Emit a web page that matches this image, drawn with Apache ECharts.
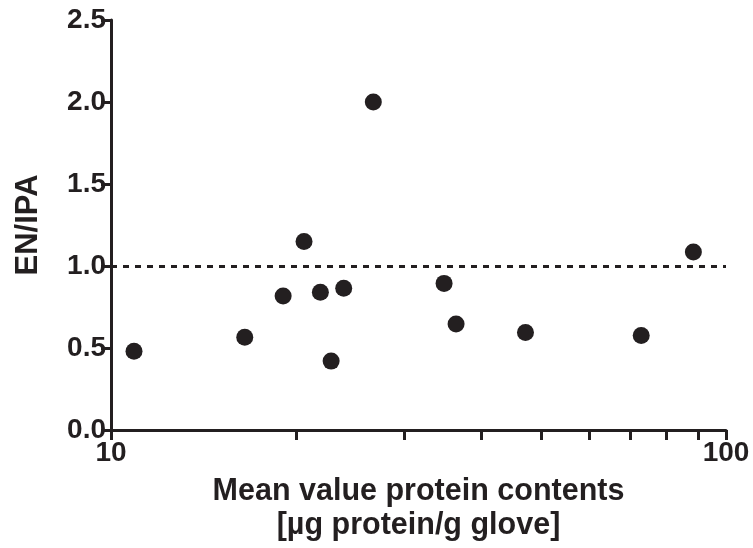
<!DOCTYPE html>
<html>
<head>
<meta charset="utf-8">
<script src="https://cdn.jsdelivr.net/npm/echarts@6/dist/echarts.min.js"></script>
<style>
  html, body { margin: 0; padding: 0; background: #fff; }
  #main { width: 753px; height: 548px; }
</style>
</head>
<body>
<div id="main"></div>
<script>
// protein content per glove (µg protein / g glove) and the EN/IPA ratio
const proteinContent = [10.9, 16.5, 19.05, 20.6, 21.9, 22.8, 23.9, 26.7, 34.8, 36.4, 47.2, 72.8, 88.5]
const enIpaRatio = [0.48, 0.566, 0.817, 1.15, 0.84, 0.42, 0.864, 2.0, 0.894, 0.647, 0.594, 0.576, 1.086]
const xTickValues = [10, 20, 30, 40, 50, 60, 70, 80, 90, 100]
const xLabelValues = [10, 100]
const referenceLine = 1.0

const ink = '#231f20'
const myChart = echarts.init(document.getElementById('main'))

const points = proteinContent.map((x, i) => [x, enIpaRatio[i]])

const option = {
  animation: false,
  grid: { left: 111, right: 27, top: 20, bottom: 116.5 },
  xAxis: {
    type: 'log',
    logBase: 10,
    min: 10,
    max: 100,
    name: 'Mean value protein contents\n[µg protein/g glove]',
    nameLocation: 'middle',
    nameGap: 45,
    nameTextStyle: {
      fontFamily: 'Liberation Sans',
      fontWeight: 'bold',
      fontSize: 30.5,
      lineHeight: 34,
      color: ink,
    },
    axisLine: { onZero: false, lineStyle: { color: ink, width: 3 } },
    axisTick: {
      show: true,
      inside: false,
      length: 10,
      customValues: xTickValues,
      lineStyle: { color: ink, width: 3 },
    },
    axisLabel: {
      customValues: xLabelValues,
      margin: 9,
      fontFamily: 'Liberation Sans',
      fontWeight: 'bold',
      fontSize: 28,
      color: ink,
    },
    splitLine: { show: false },
    minorTick: { show: false },
  },
  yAxis: {
    type: 'value',
    min: 0,
    max: 2.5,
    interval: 0.5,
    name: 'EN/IPA',
    nameLocation: 'middle',
    nameGap: 67,
    nameTextStyle: {
      fontFamily: 'Liberation Sans',
      fontWeight: 'bold',
      fontSize: 31,
      color: ink,
    },
    axisLine: { show: true, lineStyle: { color: ink, width: 3 } },
    axisTick: { show: true, length: 10, lineStyle: { color: ink, width: 3 } },
    axisLabel: {
      margin: 5,
      fontFamily: 'Liberation Sans',
      fontWeight: 'bold',
      fontSize: 28,
      color: ink,
      formatter: (v) => v.toFixed(1),
    },
    splitLine: { show: false },
  },
  series: [
    {
      type: 'scatter',
      data: points,
      symbol: 'circle',
      symbolSize: 17,
      itemStyle: { color: ink, opacity: 1 },
      markLine: {
        silent: true,
        symbol: 'none',
        label: { show: false },
        lineStyle: { color: ink, width: 3, type: [6, 6], opacity: 1 },
        data: [{ yAxis: referenceLine }],
      },
    },
  ],
}

myChart.setOption(option)
</script>
</body>
</html>
